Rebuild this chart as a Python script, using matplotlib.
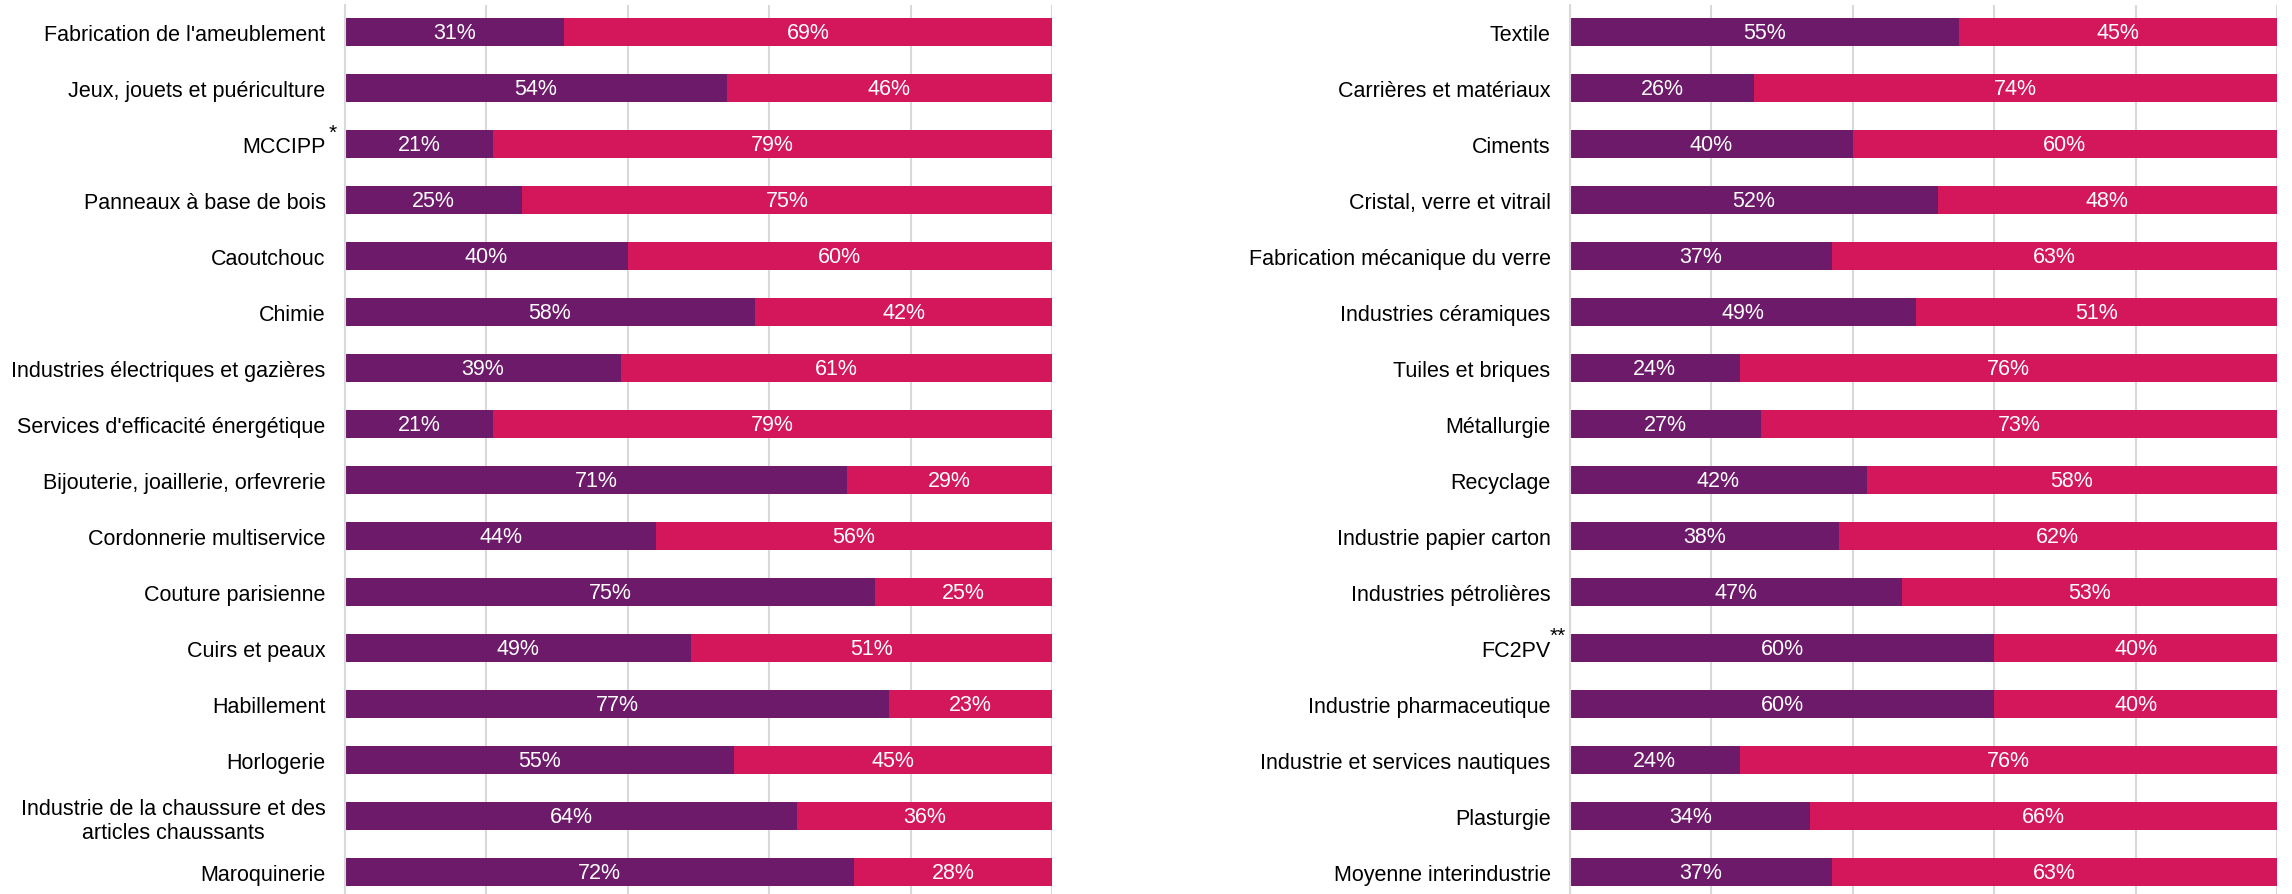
import numpy as np
import matplotlib
matplotlib.use("Agg")
import matplotlib.pyplot as plt

plt.rcParams['font.family'] = ['Liberation Sans', 'DejaVu Sans']

PURPLE = "#6d1a6b"
PINK = "#d3175a"
GRID = "#d9d9d9"

# panneau de gauche
left_labels = ["Fabrication de l'ameublement", "Jeux, jouets et puériculture", "MCCIPP",
               "Panneaux à base de bois", "Caoutchouc", "Chimie",
               "Industries électriques et gazières", "Services d'efficacité énergétique",
               "Bijouterie, joaillerie, orfevrerie", "Cordonnerie multiservice",
               "Couture parisienne", "Cuirs et peaux", "Habillement", "Horlogerie",
               "Industrie de la chaussure et des\narticles chaussants", "Maroquinerie"]
left_a = [31, 54, 21, 25, 40, 58, 39, 21, 71, 44, 75, 49, 77, 55, 64, 72]
left_b = [69, 46, 79, 75, 60, 42, 61, 79, 29, 56, 25, 51, 23, 45, 36, 28]

# panneau de droite
right_labels = ["Textile", "Carrières et matériaux", "Ciments", "Cristal, verre et vitrail",
                "Fabrication mécanique du verre", "Industries céramiques", "Tuiles et briques",
                "Métallurgie", "Recyclage", "Industrie papier carton", "Industries pétrolières",
                "FC2PV", "Industrie pharmaceutique", "Industrie et services nautiques",
                "Plasturgie", "Moyenne interindustrie"]
right_a = [55, 26, 40, 52, 37, 49, 24, 27, 42, 38, 47, 60, 60, 24, 34, 37]
right_b = [45, 74, 60, 48, 63, 51, 76, 73, 58, 62, 53, 40, 40, 76, 66, 63]

# renvois (astérisques)
notes = {"MCCIPP": "*", "FC2PV": "**"}

W, H = 2292, 895
fig = plt.figure(figsize=(W / 100, H / 100), dpi=100)
ax_l = fig.add_axes([345 / W, 0, 707 / W, 889 / H])
ax_r = fig.add_axes([1570 / W, 0, 707 / W, 889 / H])


def draw(ax, labels, a, b):
    y = np.arange(len(labels))
    ax.barh(y, a, height=0.5, color=PURPLE, zorder=2)
    ax.barh(y, b, left=a, height=0.5, color=PINK, zorder=2)
    for i in range(len(labels)):
        ax.text(a[i] / 2, y[i], f"{a[i]}%", ha="center", va="center",
                color="white", fontsize=15.5, zorder=3)
        ax.text(a[i] + b[i] / 2, y[i], f"{b[i]}%", ha="center", va="center",
                color="white", fontsize=15.5, zorder=3)
    ax.set_xlim(0, 100)
    ax.set_ylim(15.39, -0.49)
    ax.set_xticks(np.arange(0, 101, 20))
    ax.set_xticklabels([])
    ax.set_yticks(y)
    ax.set_yticklabels(labels, fontsize=15.5)
    ax.tick_params(axis="both", length=0)
    ax.tick_params(axis="y", pad=14)
    for t in ax.get_yticklabels():
        t.set_multialignment("center")
    ax.grid(axis="x", color=GRID, lw=1.5, zorder=0)
    for s in ["top", "right", "bottom"]:
        ax.spines[s].set_visible(False)
    ax.spines["left"].set_color(GRID)
    ax.spines["left"].set_linewidth(1.5)
    for i, lab in enumerate(labels):
        if lab in notes:
            ax.annotate(notes[lab], xy=(0, i), xycoords=("axes fraction", "data"),
                        xytext=(-9, 9), textcoords="offset points",
                        ha="center", va="center", fontsize=15)


draw(ax_l, left_labels, left_a, left_b)
draw(ax_r, right_labels, right_a, right_b)

fig.savefig("out.png", dpi=100)
